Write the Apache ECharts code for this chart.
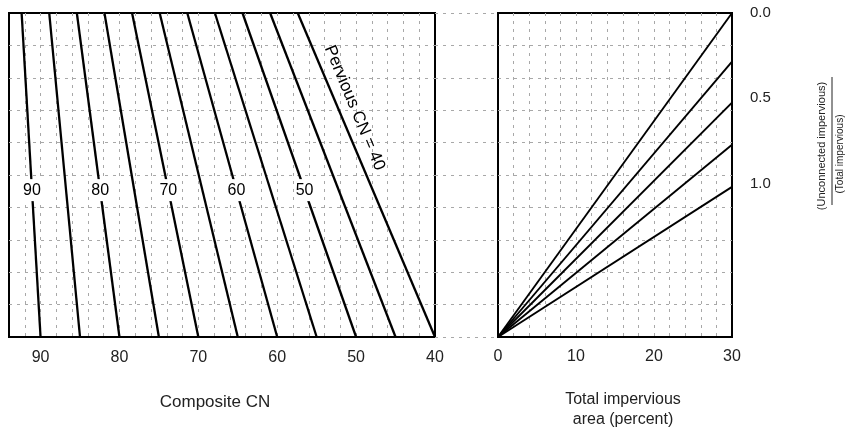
<!DOCTYPE html>
<html><head><meta charset="utf-8">
<script src="https://cdn.jsdelivr.net/npm/echarts@6/dist/echarts.min.js"></script>
<style>html,body{margin:0;padding:0;background:#fff}#c{width:851px;height:433px}</style>
</head><body><div id="c"></div>
<script>
// ---- data ----
// Left panel: one line per pervious CN; bottom = 0 % impervious, top = 30 % connected impervious
const perviousCN     = [90, 85, 80, 75, 70, 65, 60, 55, 50, 45, 40];
const compositeAtTop = [92.4, 88.9, 85.4, 81.9, 78.4, 74.9, 71.4, 67.9, 64.4, 60.9, 57.4];
const labeledCN      = [90, 80, 70, 60, 50];
// Right panel: lines from the origin to 30 % total impervious, one per ratio
const ratioValues    = [0.0, 0.25, 0.5, 0.75, 1.0];
const levelAt30      = [30.0, 25.5, 21.7, 17.8, 13.9];   // effective level reached at 30 %
const impStart = 0, impEnd = 30;
// tick labels
const compositeTicks = [40, 50, 60, 70, 80, 90];
const imperviousTicks = [0, 10, 20, 30];
const ratioTicks = [0.0, 0.5, 1.0];

// ---- layout / style constants ----
const FONT = '"Liberation Sans", Arial, Helvetica, sans-serif';
const LEVEL_MAX = 30;
const inlineLabelLevel = 13.6;
const perviousLabelAnchor = {cnShift: 2.1, level: 21.2};
const gridLine = {show: true, showMinLine: false, showMaxLine: false,
                  lineStyle: {color: '#a8a8a8', type: [3, 5], width: 1}};

const chart = echarts.init(document.getElementById('c'), null, {renderer: 'canvas'});

const series = [];
perviousCN.forEach((p, i) => {
  series.push({
    type: 'line', xAxisIndex: 0, yAxisIndex: 0, symbol: 'none', silent: true,
    lineStyle: {color: '#000', width: 2.3}, animation: false,
    data: [[p, 0], [compositeAtTop[i], LEVEL_MAX]]
  });
});
// inline labels (white box breaks the line)
const inlineData = labeledCN.map(p => {
  const i = perviousCN.indexOf(p);
  const cn = p + (compositeAtTop[i] - p) * inlineLabelLevel / LEVEL_MAX;
  return {value: [cn, inlineLabelLevel], label: {formatter: String(p)}};
});
const labelBase = {show: true, position: 'inside', color: '#000', fontFamily: FONT,
                   textBorderWidth: 0, opacity: 1};
series.push({
  type: 'scatter', xAxisIndex: 0, yAxisIndex: 0, symbolSize: 0, silent: true, animation: false, z: 5,
  itemStyle: {opacity: 1},
  data: inlineData,
  label: Object.assign({}, labelBase, {fontSize: 16, backgroundColor: '#fff', padding: [3, 1]})
});
// rotated "Pervious CN = 40"
{
  const i = perviousCN.indexOf(40);
  const lv = perviousLabelAnchor.level;
  const cn = 40 + (compositeAtTop[i] - 40) * lv / LEVEL_MAX - perviousLabelAnchor.cnShift;
  series.push({
    type: 'scatter', xAxisIndex: 0, yAxisIndex: 0, symbolSize: 0, silent: true, animation: false, z: 5,
    itemStyle: {opacity: 1},
    data: [[cn, lv]],
    label: Object.assign({}, labelBase, {formatter: 'Pervious CN = 40', rotate: -67.4, fontSize: 17})
  });
}
// right panel lines
ratioValues.forEach((r, i) => {
  series.push({
    type: 'line', xAxisIndex: 2, yAxisIndex: 2, symbol: 'none', silent: true, animation: false,
    lineStyle: {color: '#000', width: 1.9},
    data: [[impStart, 0], [impEnd, levelAt30[i]]]
  });
});

const hiddenAxisBits = {axisLine: {show: false}, axisTick: {show: false}, axisLabel: {show: false}};

chart.setOption({
  animation: false,
  backgroundColor: '#fff',
  grid: [
    {left: 9, top: 13, width: 426, height: 324, show: true, borderColor: '#000', borderWidth: 2, backgroundColor: 'transparent'},
    {left: 435, top: 13, width: 63, height: 324, show: false},
    {left: 498, top: 13, width: 234, height: 324, show: true, borderColor: '#000', borderWidth: 2, backgroundColor: 'transparent'}
  ],
  xAxis: [
    {type: 'value', gridIndex: 0, min: 40, max: 94, interval: 2, inverse: true,
     axisLine: {show: false}, axisTick: {show: false}, splitLine: gridLine,
     axisLabel: {margin: 13, fontSize: 16, color: '#222', fontFamily: FONT,
                 showMinLabel: true, showMaxLabel: false,
                 formatter: v => compositeTicks.includes(v) ? String(v) : ''}},
    {type: 'value', gridIndex: 1, min: 0, max: 1, ...hiddenAxisBits, splitLine: {show: false}},
    {type: 'value', gridIndex: 2, min: 0, max: 30, interval: 2,
     axisLine: {show: false}, axisTick: {show: false}, splitLine: gridLine,
     axisLabel: {margin: 12, fontSize: 16, color: '#222', fontFamily: FONT,
                 formatter: v => imperviousTicks.includes(v) ? String(v) : ''}}
  ],
  yAxis: [
    {type: 'value', gridIndex: 0, min: 0, max: LEVEL_MAX, interval: 3, ...hiddenAxisBits, splitLine: gridLine},
    {type: 'value', gridIndex: 1, min: 0, max: LEVEL_MAX, interval: 3, ...hiddenAxisBits,
     splitLine: {show: true, lineStyle: gridLine.lineStyle}},
    {type: 'value', gridIndex: 2, min: 0, max: LEVEL_MAX, interval: 3, ...hiddenAxisBits, splitLine: gridLine},
    {type: 'value', gridIndex: 2, position: 'right', inverse: true, min: 0, max: 1.9, interval: 0.5,
     axisLine: {show: false}, axisTick: {show: false}, splitLine: {show: false},
     axisLabel: {margin: 18, fontSize: 15, color: '#222', fontFamily: FONT,
                 formatter: v => ratioTicks.some(t => Math.abs(t - v) < 1e-9) ? v.toFixed(1) : ''}}
  ],
  series: series,
  graphic: [
    {type: 'text', x: 215, y: 402, silent: true,
     style: {text: 'Composite CN', font: '17px ' + FONT, fill: '#222', textAlign: 'center', textVerticalAlign: 'middle'}},
    {type: 'text', x: 623, y: 400, silent: true,
     style: {text: 'Total impervious', font: '16px ' + FONT, fill: '#222', textAlign: 'center', textVerticalAlign: 'middle'}},
    {type: 'text', x: 623, y: 420, silent: true,
     style: {text: 'area (percent)', font: '16px ' + FONT, fill: '#222', textAlign: 'center', textVerticalAlign: 'middle'}},
    {type: 'text', x: 822, y: 146, rotation: Math.PI / 2, silent: true,
     style: {text: '(Unconnected impervious)', font: '11px ' + FONT, fill: '#222', textAlign: 'center', textVerticalAlign: 'middle'}},
    {type: 'line', silent: true, shape: {x1: 832, y1: 77, x2: 832, y2: 205}, style: {stroke: '#222', lineWidth: 1}},
    {type: 'text', x: 840, y: 154, rotation: Math.PI / 2, silent: true,
     style: {text: '(Total impervious)', font: '10px ' + FONT, fill: '#222', textAlign: 'center', textVerticalAlign: 'middle'}}
  ]
});
</script></body></html>
